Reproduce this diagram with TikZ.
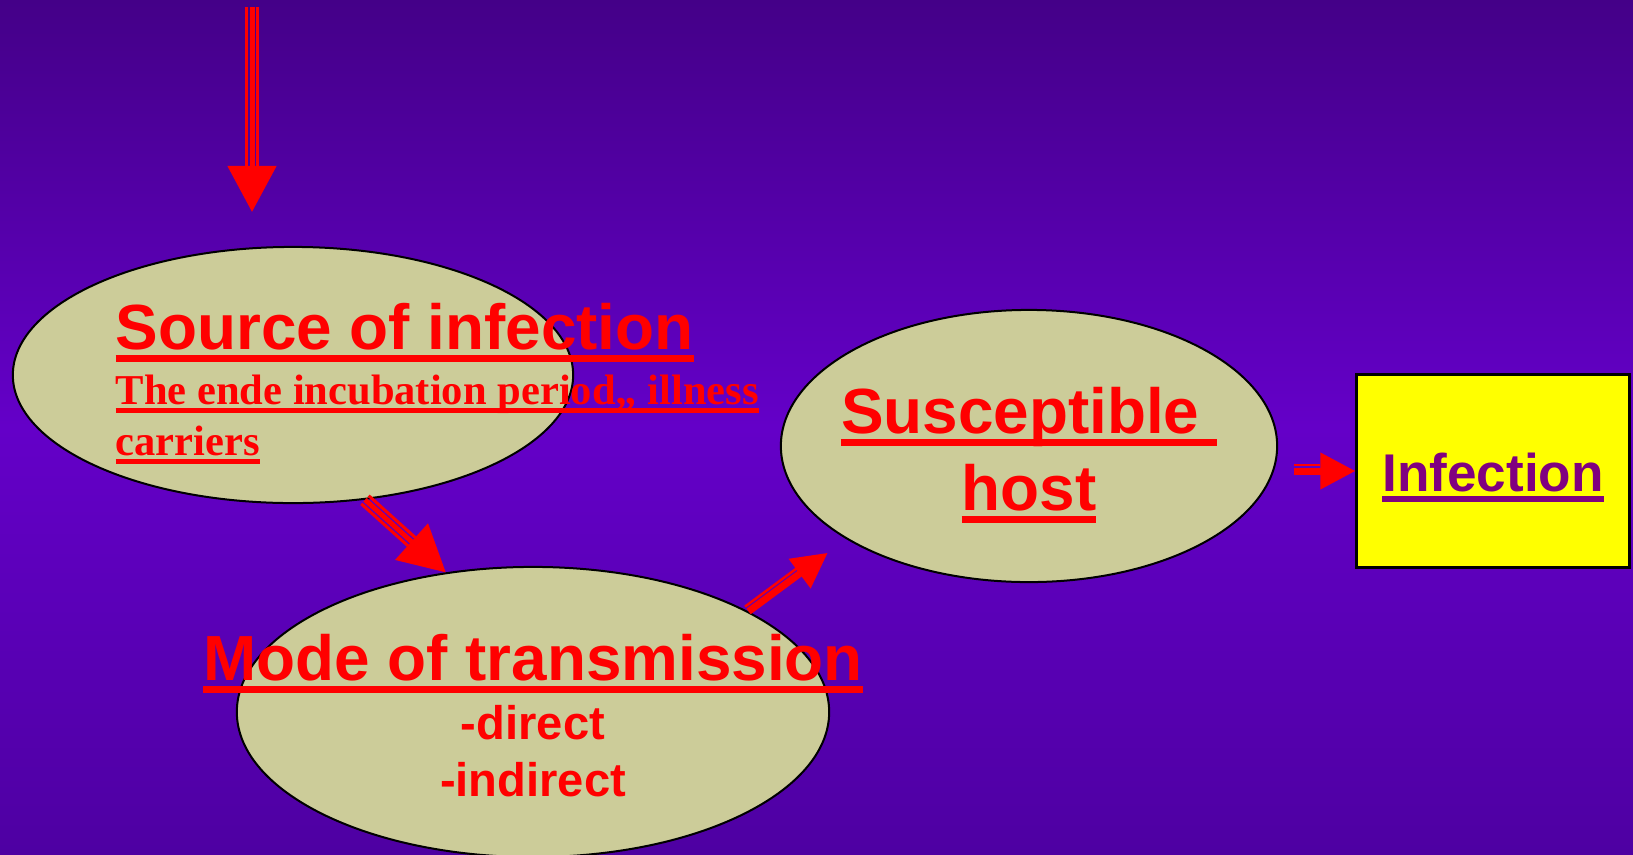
\documentclass[tikz,border=0pt]{standalone}
\usepackage{fontspec}
\setmainfont{Liberation Serif}
\setsansfont{Liberation Sans}
\usetikzlibrary{shapes.geometric,arrows.meta,calc,positioning}

\definecolor{bgtop}{HTML}{440088}
\definecolor{bgmid}{HTML}{6400C8}
\definecolor{bgbot}{HTML}{4E00A2}
\definecolor{khaki}{HTML}{CCCC99}
\definecolor{plum}{HTML}{800080}
\definecolor{boxyellow}{HTML}{FFFF00}

% thick underline as in the slide
\newcommand\ulined[1]{\setbox0\hbox{#1}\rlap{\rule[-0.21em]{\wd0}{0.11em}}\box0}

\begin{document}
\begin{tikzpicture}[x=0.01cm, y=-0.01cm]
    \tikzset{
        bubble/.style={ellipse, draw=black, line width=0.02cm, fill=khaki, inner sep=0pt},
        big/.style={font=\sffamily\bfseries\fontsize{18.15pt}{21pt}\selectfont, text=red, inner sep=0pt, anchor=base},
        small/.style={font=\rmfamily\bfseries\fontsize{12.1pt}{14pt}\selectfont, text=red, inner sep=0pt, anchor=base west},
        sub/.style={font=\sffamily\bfseries\fontsize{13.4pt}{16pt}\selectfont, text=red, inner sep=0pt, anchor=base},
        boxlabel/.style={font=\sffamily\bfseries\fontsize{15.1pt}{18pt}\selectfont, text=plum, inner sep=0pt, anchor=base},
        stripe/.style={draw=red, line width=#1},
        bighead/.style={draw=red, line width=0.05cm, -{Triangle[length=0.46cm, width=0.48cm]}},
        smallhead/.style={draw=red, line width=0.07cm, -{Triangle[length=0.35cm, width=0.35cm]}}
    }
    \useasboundingbox (0,0) rectangle (1633,854);
    \shade[top color=bgtop, bottom color=bgbot, middle color=bgmid] (0,0) rectangle (1633,854);

    % bubbles and box
    \node[bubble, minimum width=5.6cm, minimum height=2.56cm] (src) at (293,375) {};
    \node[bubble, minimum width=5.92cm, minimum height=2.9cm] (mode) at (533,712) {};
    \node[bubble, minimum width=4.96cm, minimum height=2.72cm] (host) at (1029,446) {};
    \node[draw=black, line width=0.03cm, fill=boxyellow, minimum width=2.72cm, minimum height=1.92cm] (infection) at (1493,471) {};

    % arrow from above
    \coordinate (feed) at (252,7);
    \coordinate (feedend) at (feed |- src.north);
    \draw[stripe=0.03cm, shorten >=0.8cm] ($(feed)!0.055cm!90:(feedend)$) -- ($(feedend)!0.055cm!-90:(feed)$);
    \draw[stripe=0.03cm, shorten >=0.8cm] ($(feed)!0.055cm!-90:(feedend)$) -- ($(feedend)!0.055cm!90:(feed)$);
    \draw[bighead, shorten >=0.34cm] (feed) -- (feedend);

    % source -> mode
    \draw[stripe=0.03cm, shorten >=0.46cm] ($(src.-60)!0.055cm!90:(mode.122)$) -- ($(mode.122)!0.055cm!-90:(src.-60)$);
    \draw[stripe=0.03cm, shorten >=0.46cm] ($(src.-60)!0.055cm!-90:(mode.122)$) -- ($(mode.122)!0.055cm!90:(src.-60)$);
    \draw[bighead] (src.-60) -- (mode.122);

    % mode -> host
    \draw[stripe=0.025cm, shorten >=0.57cm] ($(mode.25)!0.06cm!90:(host.207)$) -- ($(host.207)!0.06cm!-90:(mode.25)$);
    \draw[smallhead, shorten >=0.23cm] (mode.25) -- (host.207);

    % host -> infection
    \coordinate (hostout) at ($(host.east |- infection.west)+(16,0)$);
    \draw[stripe=0.025cm, shorten >=0.35cm] ($(hostout)!0.06cm!90:(infection.west)$) -- ($(infection.west)!0.06cm!-90:(hostout)$);
    \draw[smallhead] (hostout) -- (infection.west);

    % texts
    \node[big, anchor=base west] (srctitle) at (115,349) {\ulined{Source of infection}};
    \node[small] (srcline) at (115,404) {\ulined{The ende incubation period,, illness}};
    \node[small] (srccarriers) at (115,455) {\ulined{carriers}};
    \node[big] (modetitle) at (533,680) {\ulined{Mode of transmission}};
    \node[sub] (direct) at (533,739) {-direct};
    \node[sub] (indirect) at (533,796) {-indirect};
    \node[big] (hosttitle) at (1029,433) {\ulined{Susceptible }};
    \node[big] (hostline) at (1029,510) {\ulined{host}};
    \node[boxlabel] (infectionlabel) at (1493,491) {\ulined{Infection}};
\end{tikzpicture}
\end{document}
